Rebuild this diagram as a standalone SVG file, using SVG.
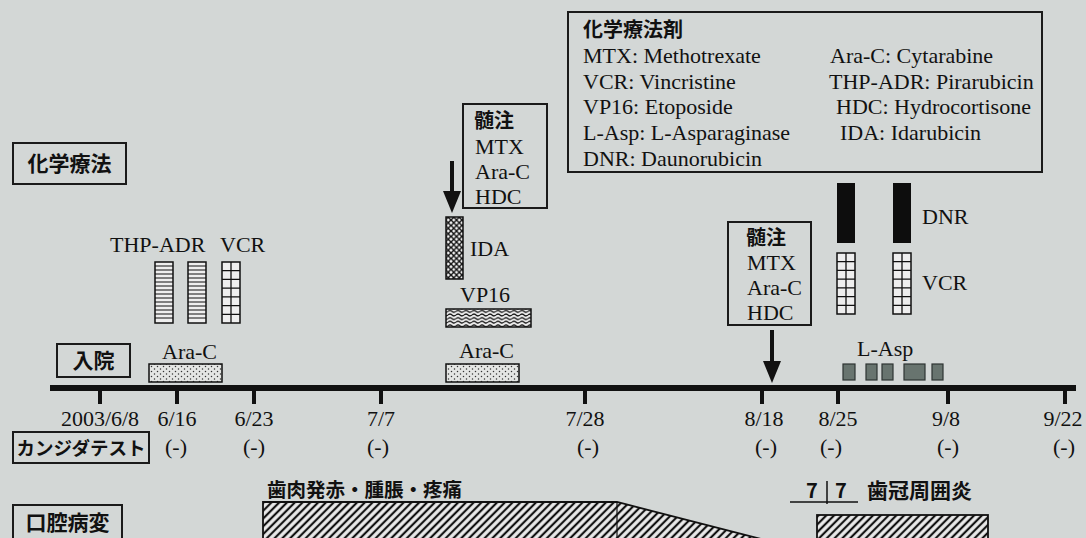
<svg xmlns="http://www.w3.org/2000/svg" xmlns:xlink="http://www.w3.org/1999/xlink" width="1086" height="538" viewBox="0 0 1086 538">
<style>
.t{font-family:"Liberation Serif","Times New Roman",serif;font-size:22px;fill:#111}
.m{text-anchor:middle}
.j{font-family:"Noto Sans CJK JP","Noto Sans",sans-serif;font-weight:700;fill:#111}
.box{fill:none;stroke:#1a1a1a;stroke-width:2}
.tick{stroke:#111;stroke-width:4}
.sq{fill:#68746f;stroke:#2e3432;stroke-width:1.2}
</style>
<defs>
<pattern id="dots" width="6" height="5" patternUnits="userSpaceOnUse"><rect width="6" height="5" fill="#e4e6e4"/><circle cx="1.5" cy="1.5" r="0.75" fill="#333"/><circle cx="4.5" cy="4" r="0.75" fill="#333"/></pattern>
<pattern id="cross" width="5.5" height="5.5" patternUnits="userSpaceOnUse"><rect width="5.5" height="5.5" fill="#f2f2f2"/><path d="M0 0L5.5 5.5M5.5 0L0 5.5" stroke="#111" stroke-width="1.4"/></pattern>
<pattern id="wave" width="8" height="3.6" patternUnits="userSpaceOnUse"><rect width="8" height="3.6" fill="#eee"/><path d="M0 1.8Q2 0 4 1.8T8 1.8" stroke="#111" fill="none" stroke-width="1.2"/></pattern>
<pattern id="hatch" width="5.5" height="5.5" patternUnits="userSpaceOnUse" patternTransform="rotate(45)"><rect width="5.5" height="5.5" fill="#ececec"/><line x1="2.75" y1="0" x2="2.75" y2="5.5" stroke="#111" stroke-width="2.2"/></pattern>
<g id="stripe">
<rect x="0" y="0" width="18" height="61" fill="#eee" stroke="#111" stroke-width="1.5"/>
<path d="M0 4H18M0 8H18M0 12H18M0 16H18M0 20H18M0 24H18M0 28H18M0 32H18M0 36H18M0 40H18M0 44H18M0 48H18M0 52H18M0 56H18" stroke="#111" stroke-width="1.1"/>
</g>
<g id="grid">
<rect x="0" y="0" width="18" height="61" fill="#eee" stroke="#111" stroke-width="1.5"/>
<path d="M9 0V61M0 8.7H18M0 17.4H18M0 26.1H18M0 34.9H18M0 43.6H18M0 52.3H18" stroke="#111" stroke-width="1.3"/>
</g>
</defs>
<rect width="1086" height="538" fill="#d3d7d6"/>

<g id="connectors">
<line x1="50" y1="388" x2="1076" y2="388" stroke="#111" stroke-width="6"/>
<line class="tick" x1="100" y1="388" x2="100" y2="404"/>
<line class="tick" x1="177" y1="388" x2="177" y2="404"/>
<line class="tick" x1="254" y1="388" x2="254" y2="404"/>
<line class="tick" x1="381" y1="388" x2="381" y2="404"/>
<line class="tick" x1="585" y1="388" x2="585" y2="404"/>
<line class="tick" x1="762" y1="388" x2="762" y2="404"/>
<line class="tick" x1="838" y1="388" x2="838" y2="404"/>
<line class="tick" x1="948" y1="388" x2="948" y2="404"/>
<line class="tick" x1="1065" y1="388" x2="1065" y2="404"/>
<line x1="452" y1="161" x2="452" y2="194" stroke="#111" stroke-width="4"/>
<polygon points="443,191 461,191 452,213" fill="#111"/>
<line x1="772" y1="330" x2="772" y2="364" stroke="#111" stroke-width="4"/>
<polygon points="763,361 781,361 772,383" fill="#111"/>
</g>

<g id="dates">
<text class="t m" x="100" y="426">2003/6/8</text>
<text class="t m" x="177" y="426">6/16</text>
<text class="t m" x="254" y="426">6/23</text>
<text class="t m" x="381" y="426">7/7</text>
<text class="t m" x="585" y="426">7/28</text>
<text class="t m" x="764" y="426">8/18</text>
<text class="t m" x="838" y="426">8/25</text>
<text class="t m" x="946" y="426">9/8</text>
<text class="t m" x="1063" y="426">9/22</text>
</g>

<g id="candida">
<rect class="box" x="13" y="432" width="136" height="31"/>
<text class="j m" x="81" y="455" font-size="18.5">カンジダテスト</text>
<text class="t m" x="176" y="454">(-)</text>
<text class="t m" x="254" y="454">(-)</text>
<text class="t m" x="378" y="454">(-)</text>
<text class="t m" x="588" y="454">(-)</text>
<text class="t m" x="766" y="454">(-)</text>
<text class="t m" x="831" y="454">(-)</text>
<text class="t m" x="948" y="454">(-)</text>
<text class="t m" x="1064" y="454">(-)</text>
</g>

<g id="chemo-label">
<rect class="box" x="13" y="143" width="113" height="41"/>
<text class="j m" x="69.5" y="171" font-size="21">化学療法</text>
</g>

<g id="admission">
<rect class="box" x="57" y="344" width="73" height="33"/>
<text class="j m" x="93.5" y="368" font-size="21">入院</text>
</g>

<g id="course1">
<text class="t" x="110" y="252">THP-ADR</text>
<text class="t" x="220" y="252">VCR</text>
<use xlink:href="#stripe" x="155" y="262"/>
<use xlink:href="#stripe" x="188" y="262"/>
<use xlink:href="#grid" x="222" y="262"/>
<text class="t" x="162" y="359">Ara-C</text>
<rect x="149" y="364" width="73" height="18" fill="url(#dots)" stroke="#111" stroke-width="1.5"/>
</g>

<g id="intrathecal1">
<rect class="box" x="463" y="104" width="84" height="104"/>
<text class="j" x="474" y="128" font-size="20">髄注</text>
<text class="t" x="475" y="154">MTX</text>
<text class="t" x="475" y="179">Ara-C</text>
<text class="t" x="475" y="204">HDC</text>
</g>

<g id="course2">
<rect x="446" y="217" width="17" height="62" fill="url(#cross)" stroke="#111" stroke-width="1.5"/>
<text class="t" x="470" y="256">IDA</text>
<text class="t" x="460" y="302">VP16</text>
<rect x="446" y="309" width="85" height="18" fill="url(#wave)" stroke="#111" stroke-width="1.5"/>
<text class="t" x="459" y="358">Ara-C</text>
<rect x="446" y="364" width="73" height="18" fill="url(#dots)" stroke="#111" stroke-width="1.5"/>
</g>

<g id="legend">
<rect class="box" x="568" y="12" width="474" height="160"/>
<text class="j" x="583" y="37" font-size="20">化学療法剤</text>
<text class="t" x="583" y="63">MTX: Methotrexate</text>
<text class="t" x="583" y="89">VCR: Vincristine</text>
<text class="t" x="583" y="114">VP16: Etoposide</text>
<text class="t" x="583" y="140">L-Asp: L-Asparaginase</text>
<text class="t" x="583" y="166">DNR: Daunorubicin</text>
<text class="t" x="830" y="63">Ara-C: Cytarabine</text>
<text class="t" x="829" y="89">THP-ADR: Pirarubicin</text>
<text class="t" x="836" y="114">HDC: Hydrocortisone</text>
<text class="t" x="840" y="140">IDA: Idarubicin</text>
</g>

<g id="intrathecal2">
<rect class="box" x="728" y="222" width="83" height="103"/>
<text class="j" x="746" y="245" font-size="20">髄注</text>
<text class="t" x="747" y="270">MTX</text>
<text class="t" x="747" y="295">Ara-C</text>
<text class="t" x="747" y="320">HDC</text>
</g>

<g id="course3">
<rect x="837" y="183" width="18" height="60" fill="#0d0d0d"/>
<rect x="893" y="183" width="18" height="60" fill="#0d0d0d"/>
<text class="t" x="922" y="224">DNR</text>
<use xlink:href="#grid" x="837" y="253"/>
<use xlink:href="#grid" x="893" y="253"/>
<text class="t" x="922" y="290">VCR</text>
<text class="t" x="857" y="356">L-Asp</text>
<rect class="sq" x="843" y="364" width="12" height="16"/>
<rect class="sq" x="866" y="364" width="11" height="16"/>
<rect class="sq" x="882" y="364" width="11" height="16"/>
<rect class="sq" x="904" y="364" width="21" height="16"/>
<rect class="sq" x="932" y="364" width="11" height="16"/>
</g>

<g id="oral-label">
<rect class="box" x="13" y="505" width="109" height="34"/>
<text class="j m" x="67.5" y="530" font-size="21">口腔病変</text>
</g>

<g id="gingival">
<text class="j" x="267" y="497" font-size="19.5">歯肉発赤・腫脹・疼痛</text>
<polygon points="263,502 617,502 765,540 263,540" fill="url(#hatch)" stroke="#111" stroke-width="1.8"/>
<line x1="617" y1="502" x2="617" y2="540" stroke="#111" stroke-width="1.2"/>
</g>

<g id="pericoronitis">
<text class="j m" x="812" y="498" font-size="20" font-weight="400">7</text>
<text class="j m" x="841" y="498" font-size="20" font-weight="400">7</text>
<line x1="790" y1="502" x2="858" y2="502" stroke="#111" stroke-width="1.5"/>
<line x1="827" y1="481" x2="827" y2="504" stroke="#111" stroke-width="1.5"/>
<text class="j" x="867" y="498" font-size="21">歯冠周囲炎</text>
<rect x="817" y="515" width="171" height="25" fill="url(#hatch)" stroke="#111" stroke-width="1.8"/>
</g>
</svg>
